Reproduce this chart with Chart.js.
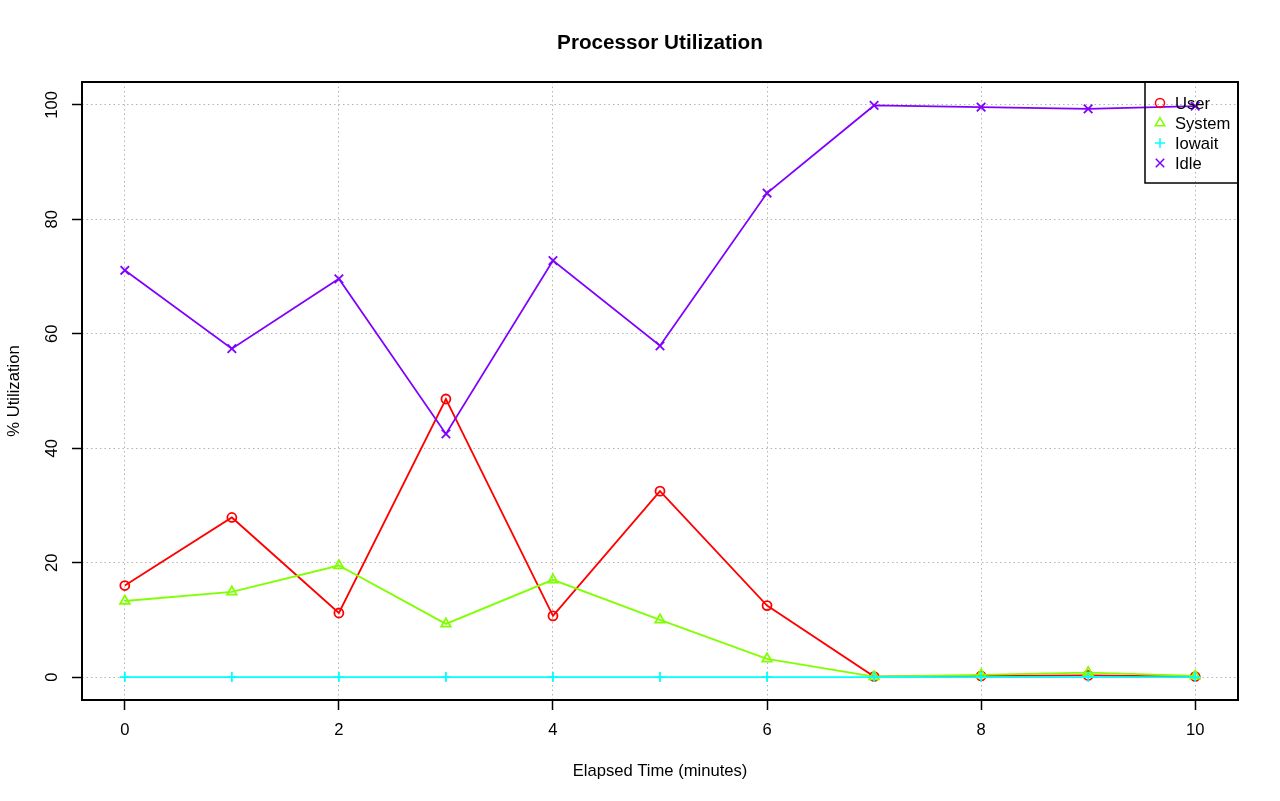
<!DOCTYPE html>
<html>
<head>
<meta charset="utf-8">
<title>Processor Utilization</title>
<script src="https://cdn.jsdelivr.net/npm/chart.js@4/dist/chart.umd.min.js"></script>
<style>
  html, body { margin: 0; padding: 0; background: #fff; }
  #wrap { width: 1280px; height: 801px; }
</style>
</head>
<body>
<div id="wrap"><canvas id="cpu-chart" width="1280" height="801"></canvas></div>
<script>
// values
const minutes = [0, 1, 2, 3, 4, 5, 6, 7, 8, 9, 10];
const userPct = [16.0, 27.9, 11.2, 48.6, 10.7, 32.5, 12.5, 0.1, 0.2, 0.3, 0.1];
const systemPct = [13.3, 14.9, 19.5, 9.3, 17.0, 10.0, 3.2, 0.1, 0.4, 0.8, 0.2];
const iowaitPct = [0, 0, 0, 0, 0, 0, 0, 0, 0, 0, 0];
const idlePct = [71.1, 57.4, 69.6, 42.5, 72.8, 57.9, 84.6, 99.9, 99.6, 99.3, 99.8];

const xTicks = [0, 2, 4, 6, 8, 10];
const yTicks = [0, 20, 40, 60, 80, 100];

const seriesNames = ['User', 'System', 'Iowait', 'Idle'];
const seriesColors = ['#FF0000', '#80FF00', '#00FFFF', '#8000FF'];
const seriesShapes = ['circle', 'triangle', 'cross', 'crossRot'];
const shapeRadius = [4.5, 5.5, 5, 6];

const FONT = '"Liberation Sans", Arial, Helvetica, sans-serif';

function toPoints(values) {
    return values.map((v, i) => ({ x: minutes[i], y: v }));
}

const allSeries = [userPct, systemPct, iowaitPct, idlePct];

const datasets = allSeries.map((values, i) => ({
    label: seriesNames[i],
    data: toPoints(values),
    borderColor: seriesColors[i],
    backgroundColor: 'transparent',
    borderWidth: 1.8,
    pointStyle: seriesShapes[i],
    pointRadius: shapeRadius[i],
    pointBorderWidth: 1.8,
    pointBorderColor: seriesColors[i],
    pointBackgroundColor: 'transparent',
    tension: 0,
    order: allSeries.length - i   // User at the bottom, Idle on top
}));

// R-style decorations: title, axis labels, rotated y ticks, box, legend
const rDecor = {
    id: 'rDecor',
    afterDraw(chart) {
        const ctx = chart.ctx;
        const area = chart.chartArea;
        const xs = chart.scales.x;
        const ys = chart.scales.y;

        ctx.save();
        ctx.fillStyle = '#000';

        // plot box
        ctx.strokeStyle = '#000';
        ctx.lineWidth = 2;
        ctx.setLineDash([]);
        ctx.strokeRect(area.left, area.top, area.right - area.left, area.bottom - area.top);

        // title
        ctx.font = 'bold 20.7px ' + FONT;
        ctx.textAlign = 'center';
        ctx.textBaseline = 'alphabetic';
        ctx.fillText('Processor Utilization', (area.left + area.right) / 2, 49);

        // x tick labels
        ctx.font = '16.6px ' + FONT;
        xTicks.forEach(v => {
            ctx.fillText(String(v), xs.getPixelForValue(v), 735);
        });

        // x axis title
        ctx.fillText('Elapsed Time (minutes)', (area.left + area.right) / 2, 776);

        // y tick labels, rotated like R's las = 0
        yTicks.forEach(v => {
            ctx.save();
            ctx.translate(57, ys.getPixelForValue(v));
            ctx.rotate(-Math.PI / 2);
            ctx.fillText(String(v), 0, 0);
            ctx.restore();
        });

        // y axis title
        ctx.save();
        ctx.translate(19, (area.top + area.bottom) / 2);
        ctx.rotate(-Math.PI / 2);
        ctx.fillText('% Utilization', 0, 0);
        ctx.restore();

        // legend (no background, like R's default)
        const lx = 1145, ly = area.top, lw = area.right - 1145, lh = 101;
        ctx.lineWidth = 1.5;
        ctx.strokeRect(lx, ly, lw, lh);
        ctx.textAlign = 'left';
        ctx.textBaseline = 'middle';
        seriesNames.forEach((name, i) => {
            const cy = 103 + i * 20;
            ctx.fillStyle = 'transparent';
            ctx.strokeStyle = seriesColors[i];
            Chart.helpers.drawPoint(ctx, {
                pointStyle: seriesShapes[i],
                radius: shapeRadius[i],
                borderWidth: 1.8
            }, 1160, cy);
            ctx.fillStyle = '#000';
            ctx.fillText(name, 1175, cy + 1);
        });

        ctx.restore();
    }
};

const ctx = document.getElementById('cpu-chart').getContext('2d');
new Chart(ctx, {
    type: 'line',
    data: { datasets: datasets },
    options: {
        responsive: false,
        devicePixelRatio: 1,
        animation: false,
        layout: { padding: { left: 0, top: 82, right: 42, bottom: 0 } },
        plugins: {
            legend: { display: false },
            title: { display: false },
            tooltip: { enabled: false }
        },
        scales: {
            x: {
                type: 'linear',
                min: -0.4,
                max: 10.4,
                afterBuildTicks: s => { s.ticks = xTicks.map(v => ({ value: v })); },
                afterFit: s => { s.height = 101; },
                ticks: { display: false },
                grid: {
                    color: '#b4b4b4',
                    lineWidth: 1,
                    tickColor: '#000',
                    tickLength: 10,
                    tickWidth: 1.5,
                    tickBorderDash: []
                },
                border: { display: false, dash: [1.5, 3] }
            },
            y: {
                type: 'linear',
                min: -4,
                max: 104,
                afterBuildTicks: s => { s.ticks = yTicks.map(v => ({ value: v })); },
                afterFit: s => { s.width = 82; },
                ticks: { display: false },
                grid: {
                    color: '#b4b4b4',
                    lineWidth: 1,
                    tickColor: '#000',
                    tickLength: 10,
                    tickWidth: 1.5,
                    tickBorderDash: []
                },
                border: { display: false, dash: [1.5, 3] }
            }
        }
    },
    plugins: [rDecor]
});
</script>
</body>
</html>
